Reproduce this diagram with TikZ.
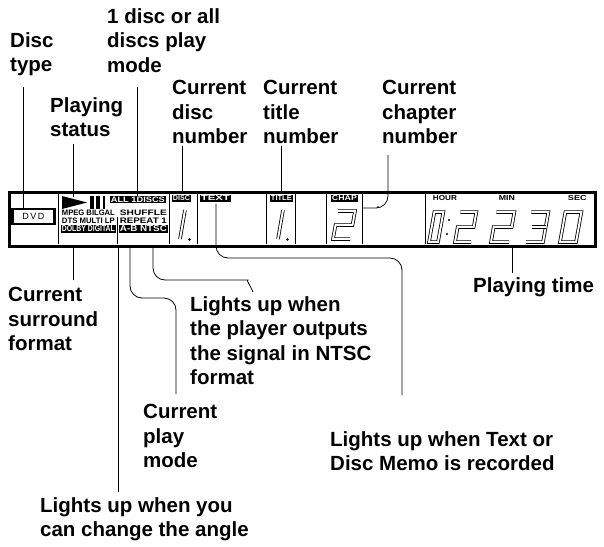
\documentclass[tikz,border=0pt]{standalone}
\usepackage{fontspec}
\setmainfont{Liberation Sans}
\usepackage{graphicx}
\newcommand\sqz[3]{\resizebox{#1pt}{#2pt}{\bfseries #3}}
\begin{document}
\begin{tikzpicture}[x=1pt,y=-1pt,
  lbl/.style={font=\bfseries\fontsize{20.5}{24.5}\selectfont, align=left, anchor=north west, inner sep=0pt},
  lead/.style={line width=0.8pt, rounded corners=12pt},
  ind/.style={inner sep=0.7pt, anchor=north west},
  blk/.style={ind, fill=black, text=white},
  seg/.style={line width=0.8pt, double=white, double distance=1.9pt, line join=miter},
  frame/.style={line width=1pt}]
\useasboundingbox (0,0) rectangle (604,546);

% ---------- labels ----------
\node[lbl] (dtype)   at (10,32)  {Disc\\type};
\node[lbl] (onedisc) at (107,8)  {1 disc or all\\discs play\\mode};
\node[lbl] (pstat)   at (50,97)  {Playing\\status};
\node[lbl] (cdisc)   at (172,80) {Current\\disc\\number};
\node[lbl] (ctitle)  at (263,80) {Current\\title\\number};
\node[lbl] (cchap)   at (382,80) {Current\\chapter\\number};
\node[lbl] (csur)    at (8,287)  {Current\\surround\\format};
\node[lbl] (ntsc)    at (190,296) {Lights up when\\the player outputs\\the signal in NTSC\\format};
\node[lbl] (ptime)   at (473,277) {Playing time};
\node[lbl] (cplay)   at (143,404) {Current\\play\\mode};
\node[lbl] (tmemo)   at (330,431) {Lights up when Text or\\Disc Memo is recorded};
\node[lbl] (angle)   at (40,497) {Lights up when you\\can change the angle};

% ---------- display strip ----------
\node[draw, line width=2.6pt, anchor=north west, minimum width=586pt, minimum height=54pt, inner sep=0pt] (strip) at (8,191) {};
\foreach \xx in {58,169,197,266,295,326,362,425}
  \draw[frame] (\xx,192) -- (\xx,244);
\draw[frame] (117,217) -- (117,244);

% DVD
\node[draw, line width=2.4pt, minimum width=42pt, minimum height=15pt, inner sep=0pt,
      font=\fontsize{9}{9}\selectfont] (dvd) at (33.5,216.5) {D\,V\,D};

% playing status icons
\fill (62,196) -- (87,202.5) -- (62,209) -- cycle;
\fill (90,196) rectangle (93.5,209);
\fill (96,196) rectangle (99.5,209);
\fill (103,196) rectangle (105,209);
\coordinate (play) at (73,197);

% indicators
\node[blk] (alld) at (110,196) {\sqz{54}{5.5}{ALL 1DISCS}};
\node[ind] (mpeg) at (61,209)  {\sqz{53}{5.5}{MPEG BILGAL}};
\node[ind] (dts)  at (61,217)  {\sqz{53}{5.5}{DTS MULTI LP}};
\node[blk] (dolby) at (61,225) {\sqz{53}{6}{DOLBY DIGITAL}};
\node[ind] (shuf) at (119,209) {\sqz{47}{5.5}{SHUFFLE}};
\node[ind] (rep)  at (119,217) {\sqz{47}{5.5}{REPEAT 1}};
\node[blk] (abn)  at (119,225) {\sqz{47}{6}{A-B NTSC}};

% disc / text / title / chapter
\node[blk] (discl)  at (172,195) {\sqz{17}{5}{DISC}};
\node[blk] (textl)  at (200,195) {\sqz{29}{5}{TEXT}};
\node[blk] (titlel) at (270,195) {\sqz{21}{5}{TITLE}};
\node[blk] (chapl)  at (331,195) {\sqz{25}{5}{CHAP}};

\draw[seg] (180,239) -- (185,210);
\fill (189.5,239.5) circle (1.4);
\draw[seg] (278,239) -- (283,210);
\fill (287.5,239.5) circle (1.4);
\begin{scope}[shift={(333,239)}, xslant=0.18]
  \draw[seg] (0,-28) -- (17,-28) -- (17,-14) -- (0,-14) -- (0,0) -- (17,0);
\end{scope}
\fill (378,207) circle (0.9);

% time
\node[ind] (hour) at (432,195) {\sqz{24}{5}{HOUR}};
\node[ind] (minl) at (498,195) {\sqz{16}{5}{MIN}};
\node[ind] (secl) at (567,195) {\sqz{19}{5}{SEC}};
\begin{scope}[shift={(429,242)}, xslant=0.18]
  \draw[seg] (0,-30) rectangle (9,0);
\end{scope}
\fill (449,220) circle (1.2);
\fill (447,234) circle (1.2);
\begin{scope}[shift={(455,242)}, xslant=0.18]
  \draw[seg] (0,-30) -- (16,-30) -- (16,-15) -- (0,-15) -- (0,0) -- (16,0);
\end{scope}
\begin{scope}[shift={(491,242)}, xslant=0.18]
  \draw[seg] (0,-30) -- (18,-30) -- (18,-15) -- (0,-15) -- (0,0) -- (18,0);
\end{scope}
\begin{scope}[shift={(526,242)}, xslant=0.18]
  \draw[seg] (0,-30) -- (17,-30) -- (17,0) -- (0,0);
  \draw[seg] (3,-15) -- (17,-15);
\end{scope}
\begin{scope}[shift={(560,242)}, xslant=0.18]
  \draw[seg] (0,-30) rectangle (16,0);
\end{scope}

% ---------- leader coordinates ----------
\coordinate (dtA) at (23,87);   \coordinate (dtB) at (23,208);
\coordinate (psA) at (73,144);
\coordinate (odA) at (137,87);  \coordinate (odB) at (137,196);
\coordinate (cdA) at (182,146); \coordinate (cdB) at (182,192);
\coordinate (ctA) at (281,146); \coordinate (ctB) at (281,192);
\coordinate (chA) at (388,155); \coordinate (chB) at (362,208);
\coordinate (suA) at (73,245);  \coordinate (suB) at (73,280);
\coordinate (anA) at (118,245); \coordinate (anB) at (118,492);
\coordinate (pmA) at (130,245); \coordinate (pmB) at (176,394);
\coordinate (ntA) at (153,245); \coordinate (ntB) at (253,292);
\coordinate (txA) at (216,203.5); \coordinate (txB) at (402,395);
\coordinate (ptA) at (512,245); \coordinate (ptB) at (512,273);

\draw[lead] (dtA) -- (dtB);
\draw[lead] (psA) -- (play);
\draw[lead] (odA) -- (odB);
\draw[lead] (cdA) -- (cdB);
\draw[lead] (ctA) -- (ctB);
\draw[lead] (chA) |- (chB);
\draw[lead] (suA) -- (suB);
\draw[lead] (anA) -- (anB);
\draw[lead] (pmA) -- (130,298) -- (176,298) -- (pmB);
\draw[lead] (ntA) -- (153,280) -- (236,280) .. controls (246,280) and (250,285) .. (ntB);
\draw[lead] (txA) -- (216,258) -- (402,258) -- (txB);
\draw[lead] (ptA) -- (ptB);
\end{tikzpicture}
\end{document}
